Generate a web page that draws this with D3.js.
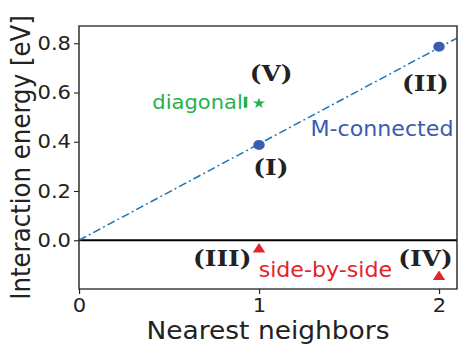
<!DOCTYPE html>
<html>
<head>
<meta charset="utf-8">
<script src="https://cdn.jsdelivr.net/npm/d3@7"></script>
<style>
  body { margin: 0; background: #fff; }
  svg { display: block; }
</style>
</head>
<body>
<div id="chart"></div>
<script>
// the source figure is a bit wider than tall in its glyphs, so the whole
// drawing is laid out in narrower units and stretched by sx
const sx = 1.08
    , outerW = 460
    , outerH = 344
    , W = outerW / sx
    , H = outerH
    , margin = { top: 26, right: 3 / sx, bottom: 55, left: 79 / sx }
    ;

// axes
const xDomain = [0, 2.1];
const yDomain = [-0.198, 0.87];
const xTicks = [0, 1, 2];
const yTicks = [0, 0.2, 0.4, 0.6, 0.8];

// dash-dot fit for the M-connected series
const fitX = [0, 2.1];
const fitY = [0, 0.821];

// series
const mConnX = [1, 2];
const mConnY = [0.387, 0.786];
const diagX = [1];
const diagY = [0.556];
const sideX = [1, 2];
const sideY = [-0.037, -0.149];

// (I)..(V) configuration labels
const romanText = ['(I)', '(II)', '(III)', '(IV)', '(V)'];
const romanX = [1.066, 1.925, 0.796, 1.925, 1.067];
const romanY = [0.265, 0.608, -0.104, -0.104, 0.645];

// series names written next to the points
const seriesText = ['M-connected', 'diagonal', 'side-by-side'];
const seriesTextX = [1.286, 0.910, 0.998];
const seriesTextY = [0.425, 0.534, -0.148];
const seriesAnchor = ['start', 'end', 'start'];

const blue = '#3a5db0'
    , lineBlue = '#1f77b4'
    , green = '#22b24c'
    , red = '#e3242b'
    , ink = '#222'
    ;

const x = d3.scaleLinear().domain(xDomain).range([margin.left, W - margin.right]);
const y = d3.scaleLinear().domain(yDomain).range([H - margin.bottom, margin.top]);

const svg = d3.select('#chart')
  .append('svg')
  .attr('width', outerW)
  .attr('height', outerH)
  ;

const g = svg.append('g')
  .attr('transform', `scale(${sx},1)`)
  .style('font-family', '"DejaVu Sans", sans-serif')
  ;

// zero line
g.append('line')
  .attr('x1', x(xDomain[0])).attr('x2', x(xDomain[1]))
  .attr('y1', y(0)).attr('y2', y(0))
  .attr('stroke', '#000')
  .attr('stroke-width', 2)
  ;

// fit line
g.append('path')
  .datum(d3.zip(fitX, fitY))
  .attr('fill', 'none')
  .attr('stroke', lineBlue)
  .attr('stroke-width', 1.5)
  .attr('stroke-dasharray', '7.5,3,1.8,3')
  .attr('d', d3.line().x(d => x(d[0])).y(d => y(d[1])))
  ;

// frame
g.append('rect')
  .attr('x', x(xDomain[0]))
  .attr('y', y(yDomain[1]))
  .attr('width', x(xDomain[1]) - x(xDomain[0]))
  .attr('height', y(yDomain[0]) - y(yDomain[1]))
  .attr('fill', 'none')
  .attr('stroke', ink)
  .attr('stroke-width', 1.3)
  ;

// axes
const xAxis = g.append('g')
  .attr('transform', `translate(0,${y(yDomain[0])})`)
  .call(d3.axisBottom(x).tickValues(xTicks).tickFormat(d3.format('d')).tickSize(5).tickPadding(4))
  ;
const yAxis = g.append('g')
  .attr('transform', `translate(${x(xDomain[0])},0)`)
  .call(d3.axisLeft(y).tickValues(yTicks).tickFormat(d3.format('.1f')).tickSize(5 / sx).tickPadding(3 / sx))
  ;
[xAxis, yAxis].forEach(a => {
  a.select('.domain').remove();
  a.selectAll('.tick line').attr('stroke', ink).attr('stroke-width', 1.1);
  a.selectAll('.tick text')
    .attr('fill', ink)
    .style('font-size', '19.5px')
    .style('font-family', '"DejaVu Sans", sans-serif');
});

// axis titles
g.append('text')
  .attr('x', (x(xDomain[0]) + x(xDomain[1])) / 2)
  .attr('y', 339)
  .attr('text-anchor', 'middle')
  .attr('fill', ink)
  .style('font-size', '24.5px')
  .text('Nearest neighbors')
  ;
g.append('text')
  .attr('transform', `translate(${29.5 / sx},${(y(yDomain[0]) + y(yDomain[1])) / 2}) rotate(-90)`)
  .attr('text-anchor', 'middle')
  .attr('fill', ink)
  .style('font-size', '24.5px')
  .text('Interaction energy [eV]')
  ;

// markers
function marker(sel, xs, ys, shape, size, color) {
  sel.selectAll(null)
    .data(d3.zip(xs, ys))
    .join('path')
      .attr('transform', d => `translate(${x(d[0])},${y(d[1])}) scale(1.05,1)`)
      .attr('d', d3.symbol().type(shape).size(size))
      .attr('fill', color)
      ;
}
marker(g, mConnX, mConnY, d3.symbolCircle, 80, blue);
marker(g, diagX, diagY, d3.symbolStar, 36, green);
marker(g, sideX, sideY, d3.symbolTriangle, 52, red);

// roman labels
g.append('g')
  .selectAll('text')
  .data(romanText)
  .join('text')
    .attr('x', (d, i) => x(romanX[i]))
    .attr('y', (d, i) => y(romanY[i]))
    .attr('text-anchor', 'middle')
    .attr('fill', ink)
    .style('font-family', '"DejaVu Serif", serif')
    .style('font-weight', 'bold')
    .style('font-size', '23px')
    .text(d => d)
    ;

// series names
const seriesColor = [blue, green, red];
const seriesSize = [20.5, 19.5, 20.5];
const names = g.append('g')
  .selectAll('text')
  .data(seriesText)
  .join('text')
    .attr('x', (d, i) => x(seriesTextX[i]))
    .attr('y', (d, i) => y(seriesTextY[i]))
    .attr('text-anchor', (d, i) => seriesAnchor[i])
    .attr('fill', (d, i) => seriesColor[i])
    .style('font-size', (d, i) => `${seriesSize[i]}px`)
    .text(d => d)
    ;

// the thick bar right after "diagonal" in the original
const diagBox = names.filter(d => d === 'diagonal').node().getBBox();
g.append('rect')
  .attr('x', diagBox.x + diagBox.width + 1 / sx)
  .attr('y', y(seriesTextY[1]) - 12)
  .attr('width', 3.5 / sx)
  .attr('height', 11)
  .attr('fill', green)
  ;
</script>
</body>
</html>
